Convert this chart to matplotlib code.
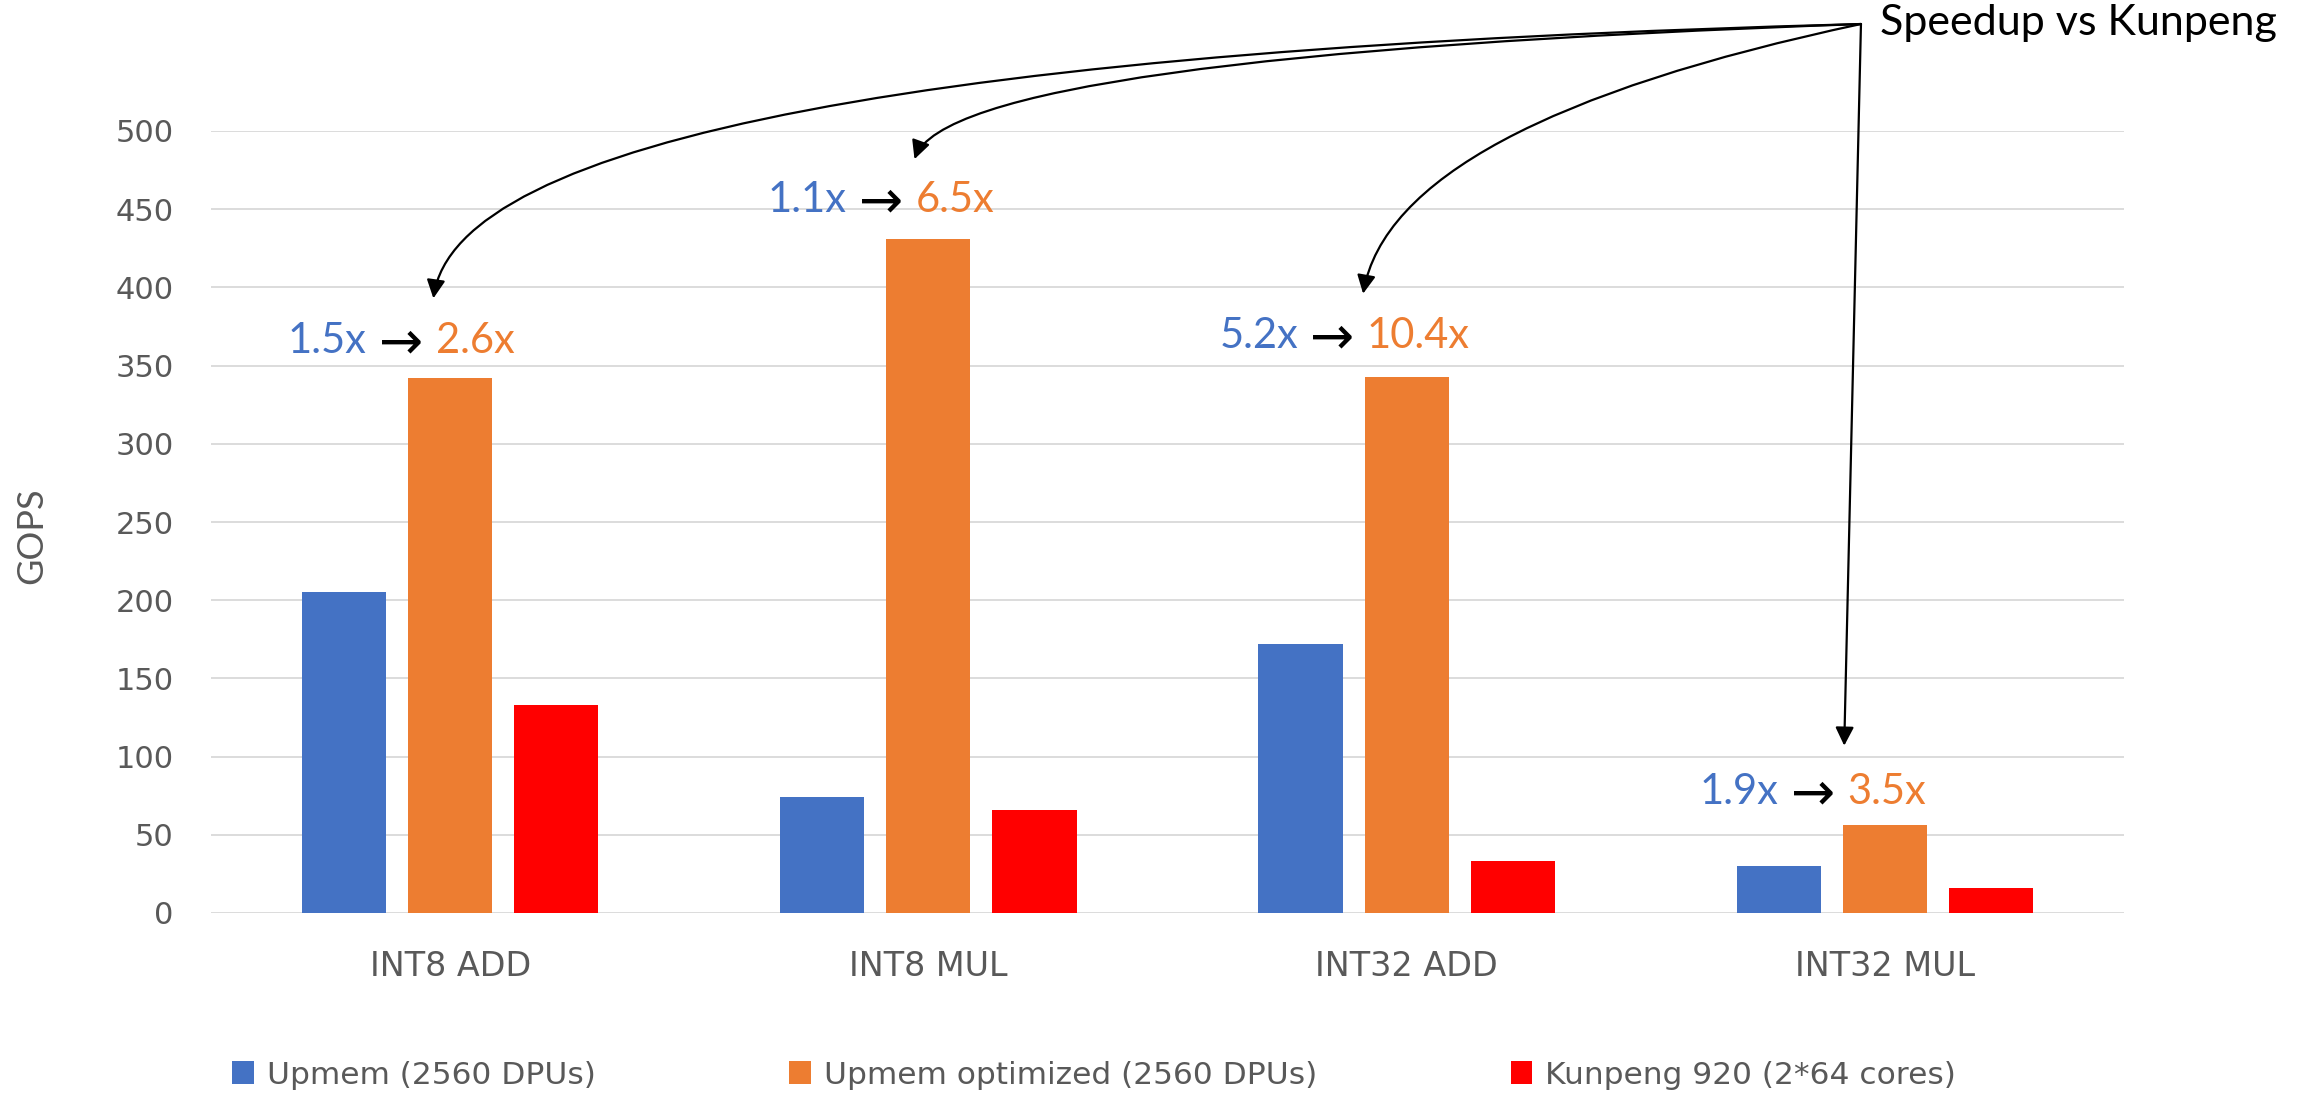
import numpy as np
import matplotlib.pyplot as plt

categories = ["INT8 ADD", "INT8 MUL", "INT32 ADD", "INT32 MUL"]
series_names = ["Upmem (2560 DPUs)", "Upmem optimized (2560 DPUs)", "Kunpeng 920 (2*64 cores)"]
upmem = [205, 74, 172, 30]
upmem_opt = [342, 431, 343, 56]
kunpeng = [133, 66, 33, 16]
colors = ["#4472C4", "#ED7D31", "#FF0000"]

# where the speedup labels sit (x of the small arrow, baseline y)
label_x = [-0.103, 0.901, 1.844, 2.849]
label_y = [358, 448, 361, 70]
# arrow tips pointing at each label, and connector shapes
tips = [(-0.035, 393), (0.971, 482), (1.909, 396), (2.915, 107)]
styles = ["angle3,angleA=1.5,angleB=82",
          "angle3,angleA=2,angleB=70",
          "angle3,angleA=12,angleB=80",
          "arc3,rad=0"]
hub = (2.950, 568.4)

W, H = 2313, 1097
fig = plt.figure(figsize=(W / 100, H / 100), dpi=100)
ax = fig.add_axes([211 / W, 1 - 913 / H, (2124 - 211) / W, (913 - 131) / H])

x = np.arange(len(categories))
step = 0.222
width = 0.176
for i, (vals, c, name) in enumerate(zip([upmem, upmem_opt, kunpeng], colors, series_names)):
    ax.bar(x + (i - 1) * step, vals, width, color=c, label=name, zorder=3)

ax.set_xlim(-0.5, 3.5)
ax.set_ylim(0, 500)
ax.set_yticks(range(0, 501, 50))
ax.set_xticks(x)
ax.set_xticklabels(categories)
ax.grid(axis="y", color="#D9D9D9", linewidth=1.3, zorder=0)
for s in ax.spines.values():
    s.set_visible(False)
ax.tick_params(axis="y", length=0, pad=27, labelsize=22, labelcolor="#595959")
ax.tick_params(axis="x", length=0, pad=27, labelsize=24, labelcolor="#595959")

fig.text(32 / W, 0.512, "GOPS", rotation=90, ha="center", va="center",
         fontsize=26, color="#595959", family="Lato")

lato = ["Lato", "DejaVu Sans"]
for i in range(len(categories)):
    before = f"{upmem[i] / kunpeng[i]:.1f}x"
    after = f"{upmem_opt[i] / kunpeng[i]:.1f}x"
    pos = (label_x[i], label_y[i])
    ax.annotate(before, pos, xytext=(-24.5, 0), textcoords="offset points",
                ha="right", va="baseline", fontsize=30, color=colors[0], family=lato)
    ax.annotate("\u2192", pos, xytext=(0, -4), textcoords="offset points",
                ha="center", va="baseline", fontsize=38, color="black", family="DejaVu Sans")
    ax.annotate(after, pos, xytext=(25, 0), textcoords="offset points",
                ha="left", va="baseline", fontsize=30, color=colors[1], family=lato)

for tip, cs in zip(tips, styles):
    ax.annotate("", xy=tip, xytext=hub, annotation_clip=False,
                arrowprops=dict(arrowstyle="-|>", connectionstyle=cs, color="black",
                                lw=1.6, shrinkA=0, shrinkB=0, mutation_scale=28))

ax.text(2.989, 561.4, "Speedup vs Kunpeng", ha="left", va="baseline",
        fontsize=31, color="black", family=lato, clip_on=False)

fig.legend(loc="center", bbox_to_anchor=(0.473, 0.02), ncol=3, frameon=False,
           fontsize=22.5, labelcolor="#595959", handlelength=0.7, handleheight=0.72,
           handletextpad=0.4, columnspacing=6.2)

fig.savefig("out.png", dpi=100)
